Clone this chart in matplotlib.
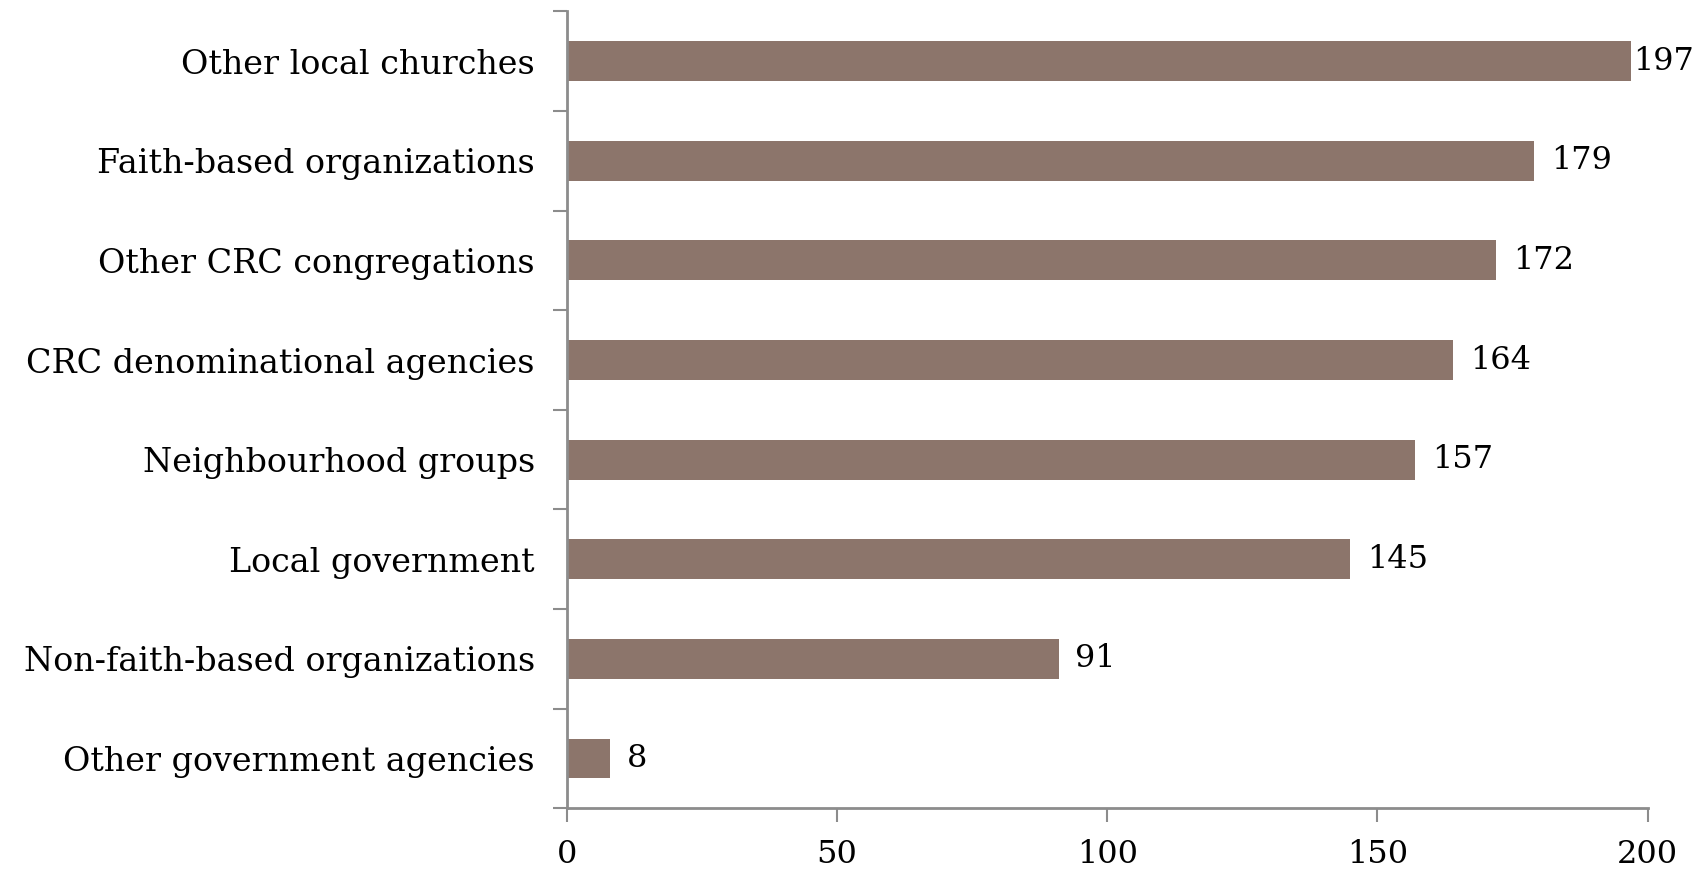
import matplotlib.pyplot as plt
import numpy as np

# 数据
categories = ['Other government agencies', 'Non-faith-based organizations', 'Local government',
              'Neighbourhood groups', 'CRC denominational agencies', 'Other CRC congregations',
              'Faith-based organizations', 'Other local churches']
values = [8, 91, 145, 157, 164, 172, 179, 197]
x_ticks = [0, 50, 100, 150, 200]

bar_color = '#8C756B'
axis_color = '#8C8C8C'

plt.rcParams['font.family'] = ['DejaVu Serif']

fig = plt.figure(figsize=(17.02, 8.72), dpi=100)
ax = fig.add_axes([0.333, 0.073, 0.635, 0.914])

y = np.arange(len(categories))
bars = ax.barh(y, values, height=0.4, color=bar_color)

# 数值标注（最上面的标签紧贴条形末端）
for i, v in enumerate(values):
    pad = 1 if v == max(values) else 12
    ax.annotate(str(v), xy=(v, y[i]), xytext=(pad, 0), textcoords='offset points',
                ha='left', va='center', fontsize=23)

ax.set_xlim(0, 200)
ax.set_ylim(-0.5, len(categories) - 0.5)
ax.set_xticks(x_ticks)
ax.set_yticks(y)
ax.set_yticklabels(categories, fontsize=24)
ax.set_yticks(np.arange(-0.5, len(categories)), minor=True)
ax.tick_params(axis='y', which='major', length=0, pad=23)
ax.tick_params(axis='y', which='minor', length=10, width=1.5, color=axis_color)
ax.tick_params(axis='x', length=10, width=1.5, color=axis_color, labelsize=23, pad=12)

for side in ['top', 'right']:
    ax.spines[side].set_visible(False)
for side in ['left', 'bottom']:
    ax.spines[side].set_color(axis_color)
    ax.spines[side].set_linewidth(2)

fig.savefig('out.png', dpi=100)
